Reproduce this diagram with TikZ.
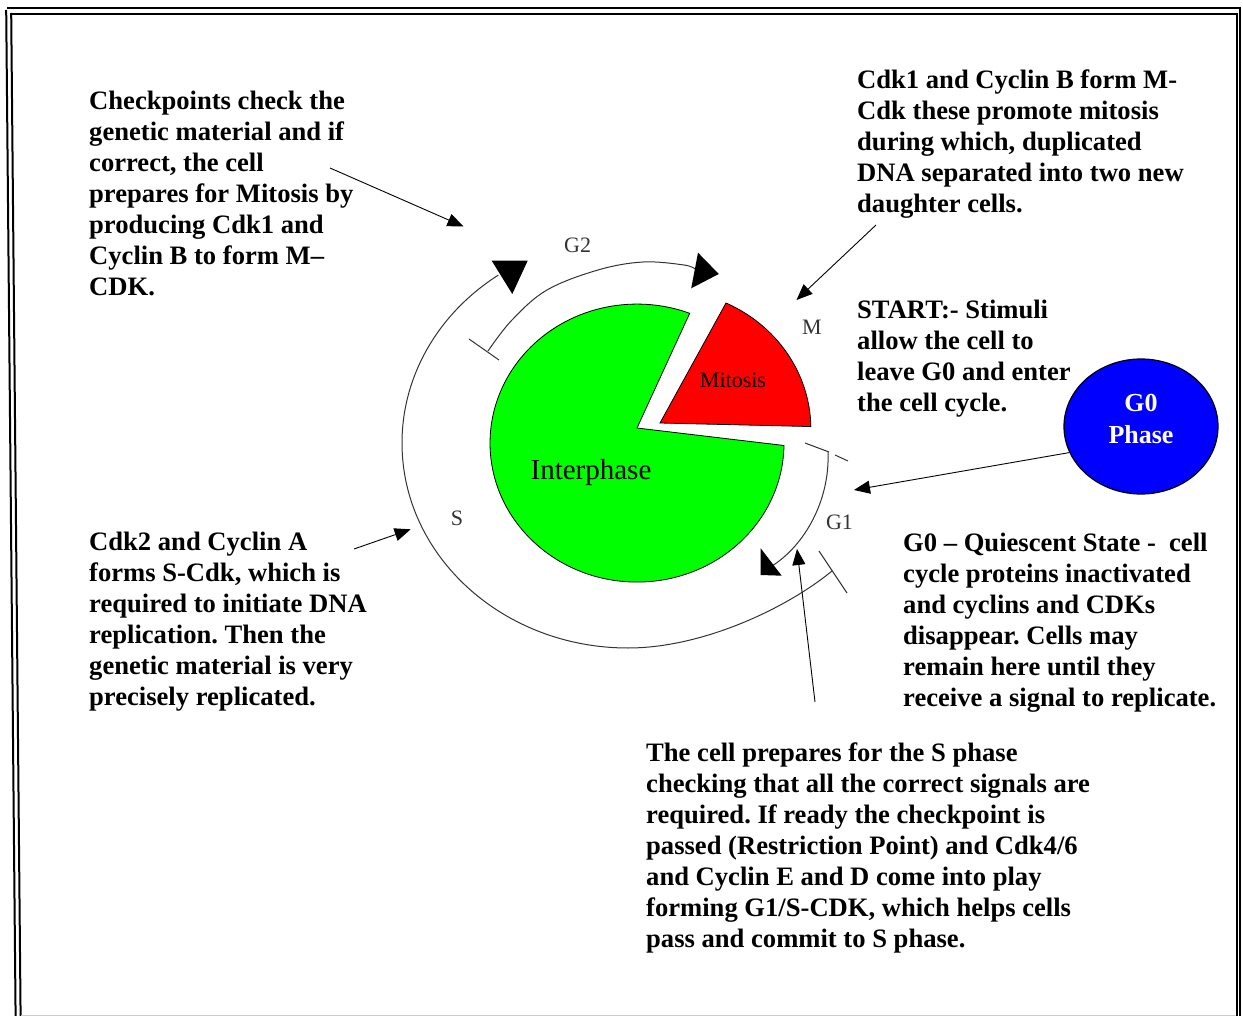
\documentclass[tikz,border=0pt]{standalone}
\usepackage{fontspec}
\setmainfont{Liberation Serif}
\usetikzlibrary{arrows.meta,shapes.geometric}
\begin{document}
\begin{tikzpicture}[x=1pt,y=1pt,
  txt/.style={anchor=north west, inner sep=0pt, align=left, font=\fontsize{26.6}{31}\selectfont\bfseries\frenchspacing},
  lbl/.style={inner sep=0pt, font=\fontsize{22}{24}\selectfont, text=black!80},
  conn/.style={line width=0.9pt, -{Triangle[length=16pt,width=13pt]}},
  cyc/.style={line width=1pt, draw=black!80},
  tick/.style={line width=1pt, draw=black!80},
  frame/.style={line width=2pt, draw=black}]
\useasboundingbox (0,0) rectangle (1243,-1016);
% page frame
\draw[frame] (6.2,-10) -- (15.6,-1016);
\draw[frame] (11.2,-13) -- (20.6,-1016);
\draw[frame] (7,-7.8) -- (1240,-7.8);
\draw[frame] (11,-13.8) -- (1236,-13.8);
\draw[frame] (1236.5,-13) -- (1236.5,-1016);
\draw[frame] (1240.3,-7) -- (1240.3,-1016);
\draw[gray!40, line width=1pt] (21,-1015.5) -- (1236,-1015.5);
% pie
\filldraw[fill=green, draw=black, line width=0.8pt] (637,-428) -- (784,-445.5) arc[start angle=-1, end angle=-291, x radius=147, y radius=139] -- cycle;
\filldraw[fill=red, draw=black, line width=0.8pt] (660,-423) -- (726,-303) arc[start angle=65, end angle=1, x radius=147, y radius=139] -- cycle;
\node[font=\fontsize{22}{24}\selectfont, inner sep=0pt] (mit) at (733,-380) {Mitosis};
\node[font=\fontsize{29}{30}\selectfont, inner sep=0pt] (inter) at (591,-473) {Interphase};
% cycle arcs
\draw[cyc] plot[smooth, tension=0.6] coordinates {(488,-351) (512,-320) (547,-290) (598,-270) (643,-262) (684,-265) (695,-269)};
\draw[cyc] (832,-571) .. controls (787,-608) and (703,-648) .. (628,-648)
  arc[start angle=270, end angle=125, x radius=226, y radius=205];
\draw[cyc] (828,-452) .. controls (830,-500) and (805,-545) .. (772,-566);
% ticks
\draw[tick] (469,-339) -- (499,-360);
\draw[tick] (805,-443) -- (829,-452);
\draw[tick] (835,-455) -- (848,-461);
\draw[tick] (819,-551) -- (847,-593);
% arrow heads of the cycle
\fill (491.7,-260.7) -- (527.7,-260.7) -- (512.3,-294) -- cycle;
\fill (698,-252.7) -- (718.8,-274) -- (691.2,-288.3) -- cycle;
\fill (760.7,-548.3) -- (760.7,-575) -- (781.7,-575.7) -- cycle;
% phase labels
\node[lbl] (lg2) at (577.6,-245) {G2};
\node[lbl] (lm) at (812,-327) {M};
\node[lbl] (ls) at (457,-518) {S};
\node[lbl] (lg1) at (839.5,-522) {G1};
% G0
\node[ellipse, draw=black, line width=1.2pt, fill=blue, minimum width=154pt, minimum height=135pt, inner sep=0pt] (g0) at (1141,-426.5) {};
\node[font=\fontsize{26}{32}\selectfont\bfseries, text=white, align=center, inner sep=0pt] (g0txt) at (1141,-419) {G0\\Phase};
% texts
\node[txt] (checkp) at (89,-87.3) {\strut Checkpoints check the\\genetic material and if\\correct, the cell\\prepares for Mitosis by\\producing Cdk1 and\\Cyclin B to form M–\\CDK.};
\node[txt] (cdk1) at (857,-66.3) {\strut Cdk1 and Cyclin B form M-\\Cdk these promote mitosis\\during which, duplicated\\DNA separated into two new\\daughter cells.};
\node[txt] (start) at (857,-296.3) {\strut START:- Stimuli\\allow the cell to\\leave G0 and enter\\the cell cycle.};
\node[txt] (cdk2) at (89,-528.3) {\strut Cdk2 and Cyclin A\\forms S-Cdk, which is\\required to initiate DNA\\replication. Then the\\genetic material is very\\precisely replicated.};
\node[txt] (quies) at (903,-529.3) {\strut G0 – Quiescent State - \ cell\\cycle proteins inactivated\\and cyclins and CDKs\\disappear. Cells may\\remain here until they\\receive a signal to replicate.};
\node[txt] (prep) at (646,-739.3) {\strut The cell prepares for the S phase\\checking that all the correct signals are\\required. If ready the checkpoint is\\passed (Restriction Point) and Cdk4/6\\and Cyclin E and D come into play\\forming G1/S-CDK, which helps cells\\pass and commit to S phase.};
% connectors
\coordinate (c1s) at (330,-168);
\coordinate (c1e) at (463.5,-226.5);
\coordinate (c2s) at (876,-225);
\coordinate (c2e) at (796.5,-300);
\coordinate (c3e) at (854,-490);
\coordinate (c4s) at (354,-549);
\coordinate (c4e) at (410.6,-529.3);
\coordinate (c5s) at (815,-702);
\coordinate (c5e) at (797,-549);
\draw[conn] (c1s) -- (c1e);
\draw[conn] (c2s) -- (c2e);
\draw[conn] (g0.200) -- (c3e);
\draw[conn] (c4s) -- (c4e);
\draw[conn] (c5s) -- (c5e);
\end{tikzpicture}
\end{document}
